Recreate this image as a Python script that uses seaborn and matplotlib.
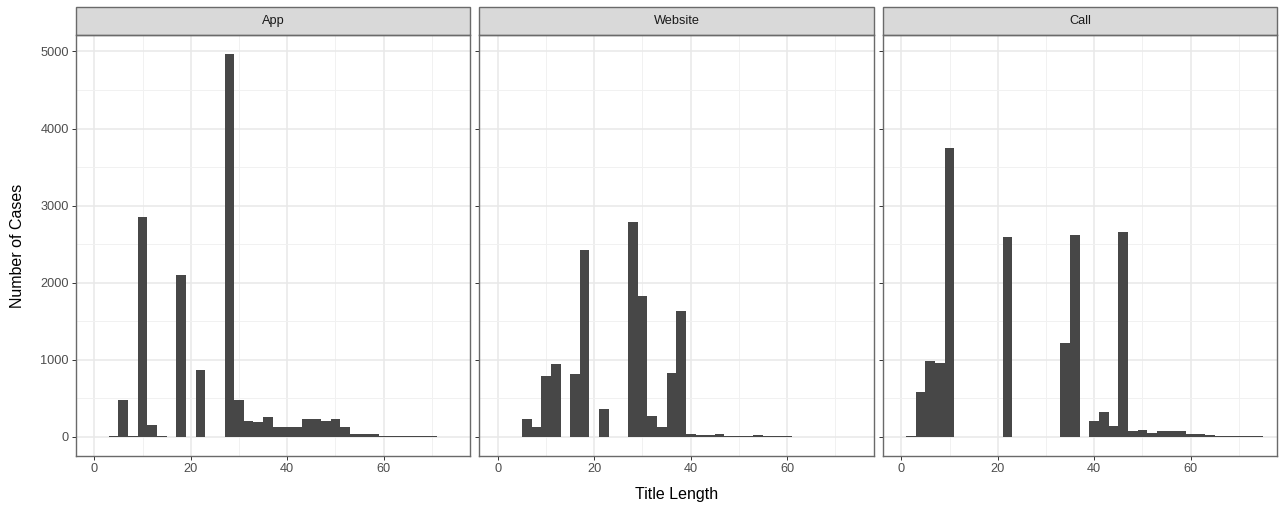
import numpy as np
import pandas as pd
import matplotlib
matplotlib.use("Agg")
import matplotlib.pyplot as plt
import seaborn as sns
from matplotlib.patches import Rectangle
from matplotlib.ticker import MultipleLocator

# Histogram counts of title length (binwidth 2, bins centred on even lengths)
channels = ["App", "Website", "Call"]
bin_centers = list(range(2, 76, 2))

app_counts = [0, 8, 481, 12, 2858, 157, 8, 0, 2098, 0, 865, 0, 0, 4965, 481,
              210, 192, 258, 127, 127, 127, 227, 227, 210, 227, 122, 39, 39,
              39, 12, 9, 9, 9, 9, 9, 0, 4]
website_counts = [0, 0, 227, 127, 795, 948, 0, 813, 2421, 0, 358, 0, 0, 2788,
                  1827, 271, 122, 830, 1639, 35, 22, 22, 39, 11, 11, 11, 26, 10,
                  10, 8, 4, 4, 4, 4, 0, 0, 0]
call_counts = [10, 577, 983, 957, 3750, 0, 0, 0, 0, 0, 2587, 0, 0, 0, 0, 0,
               1224, 2622, 0, 205, 323, 140, 2653, 74, 92, 52, 70, 70, 70, 39,
               39, 22, 10, 10, 10, 10, 10]

x_ticks = [0, 20, 40, 60]
y_ticks = [0, 1000, 2000, 3000, 4000, 5000]

df = pd.DataFrame({
    "channel": np.repeat(channels, len(bin_centers)),
    "length": bin_centers * 3,
    "count": app_counts + website_counts + call_counts,
})

sns.set_style("white")
plt.rcParams["font.family"] = ["Liberation Sans", "DejaVu Sans"]

W, H = 1279, 508
g = sns.FacetGrid(df, col="channel", col_order=channels, sharex=True,
                  sharey=True, height=5.08, aspect=1.0, despine=False)
g.figure.set_size_inches(W / 100, H / 100)
g.map_dataframe(sns.histplot, x="length", weights="count", binwidth=2,
                binrange=(1, 75), color="#474747", alpha=1, linewidth=0)

g.figure.subplots_adjust(left=76 / W, right=1277 / W, bottom=1 - 456 / H,
                         top=1 - 35 / H, wspace=0.024)

strip_h = 27.5 / (456 - 35)
for ax, name in zip(g.axes.flat, channels):
    ax.set_xlim(-3.8, 77.9)
    ax.set_ylim(-248, 5213)
    ax.set_xticks(x_ticks)
    ax.set_yticks(y_ticks)
    ax.xaxis.set_minor_locator(MultipleLocator(10))
    ax.yaxis.set_minor_locator(MultipleLocator(500))
    ax.set_axisbelow(True)
    ax.grid(which="major", color="#E8E8E8", linewidth=1.1)
    ax.grid(which="minor", color="#F1F1F1", linewidth=0.7)
    ax.tick_params(which="major", direction="out", length=2.7, width=0.7,
                   color="#333333", labelcolor="#4D4D4D", labelsize=9.2,
                   bottom=True, left=True, pad=2.5)
    ax.tick_params(which="minor", length=0)
    for sp in ax.spines.values():
        sp.set_color("#6A6A6A")
        sp.set_linewidth(1.0)
    ax.set_title("")
    ax.set_xlabel("")
    ax.set_ylabel("")
    ax.add_patch(Rectangle((0, 1), 1, strip_h, transform=ax.transAxes,
                           clip_on=False, facecolor="#D9D9D9",
                           edgecolor="#6A6A6A", linewidth=1.0))
    ax.text(0.5, 1 + strip_h / 2, name, transform=ax.transAxes,
            ha="center", va="center", fontsize=9.2, color="#1A1A1A")

for ax in g.axes.flat[1:]:
    ax.tick_params(labelleft=False)

g.figure.text(676.5 / W, 1 - 494 / H, "Title Length", ha="center",
              va="center", fontsize=11.5, color="#000000")
g.figure.text(18 / W, 1 - 245.5 / H, "Number of Cases", ha="center",
              va="center", rotation=90, fontsize=11.5, color="#000000")

g.figure.savefig("out.png", dpi=100)
